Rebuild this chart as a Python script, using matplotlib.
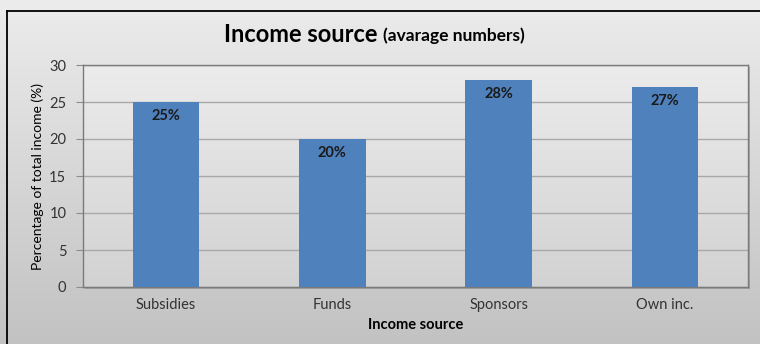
import numpy as np
import matplotlib.pyplot as plt
from matplotlib.patches import Rectangle

plt.rcParams['font.family'] = ['Lato', 'DejaVu Sans']

sources = ['Subsidies', 'Funds', 'Sponsors', 'Own inc.']
shares = [25, 20, 28, 27]
yticks = [0, 5, 10, 15, 20, 25, 30]

fig = plt.figure(figsize=(7.6, 3.44), dpi=100)

# background of the whole chart: vertical grey gradient
bg = fig.add_axes([0, 0, 1, 1], zorder=-5)
grad = np.linspace(0, 1, 256).reshape(-1, 1)
bg.imshow(grad, cmap=plt.matplotlib.colors.LinearSegmentedColormap.from_list(
    'bg', ['#c2c2c2', '#ececec']), aspect='auto', extent=[0, 1, 0, 1],
    origin='lower')
bg.set_xlim(0, 1)
bg.set_ylim(0, 1)
bg.axis('off')
# outer chart frame (left and top edges visible)
bg.plot([7 / 760, 7 / 760], [0, 1 - 11 / 344], color='black', lw=1.3)
bg.plot([7 / 760, 1], [1 - 11 / 344, 1 - 11 / 344], color='black', lw=1.3)

left, bottom, width, height = 83 / 760, 57 / 344, 665 / 760, 222 / 344

# soft shadow behind the plot area
bg.add_patch(Rectangle((left + 2 / 760, bottom - 2 / 344), width, height,
                       facecolor='#8a8a8a', edgecolor='none', alpha=0.6))

ax = fig.add_axes([left, bottom, width, height])
ax.imshow(grad, cmap=plt.matplotlib.colors.LinearSegmentedColormap.from_list(
    'pa', ['#d2d2d2', '#ececec']), aspect='auto', extent=[-0.5, 3.5, 0, 30],
    origin='lower', zorder=0)

x = np.arange(len(sources))
bars = ax.bar(x, shares, width=0.4, color='#4f81bd', zorder=3)
for b, v in zip(bars, shares):
    ax.annotate(f'{v}%', (b.get_x() + b.get_width() / 2, v),
                xytext=(0, -10), textcoords='offset points',
                ha='center', va='center', fontsize=10.5, fontweight='bold',
                color='#1a1a1a', zorder=4)

ax.set_xlim(-0.5, 3.5)
ax.set_ylim(0, 30)
ax.set_yticks(yticks)
ax.set_xticks(x)
ax.set_xticklabels(sources)
ax.yaxis.grid(True, color='#a8a8a8', lw=1, zorder=1)
ax.set_axisbelow(True)
ax.tick_params(axis='y', length=5, color='#8c8c8c', labelsize=10.5,
               labelcolor='#333333', pad=7)
ax.tick_params(axis='x', length=0, labelsize=10.5, labelcolor='#333333', pad=8)
for s in ax.spines.values():
    s.set_color('#7a7a7a')
    s.set_linewidth(1)

ax.set_ylabel('Percentage of total income (%)', fontsize=10, labelpad=4)
ax.set_xlabel('Income source', fontsize=10.5, fontweight='bold', labelpad=4)

fig.text(0.497, 1 - 35 / 344, 'Income source', ha='right', va='center',
         fontsize=17, fontweight='bold')
fig.text(0.504, 1 - 36 / 344, '(avarage numbers)', ha='left', va='center',
         fontsize=12.5, fontweight='bold')

fig.savefig('out.png', dpi=100)
